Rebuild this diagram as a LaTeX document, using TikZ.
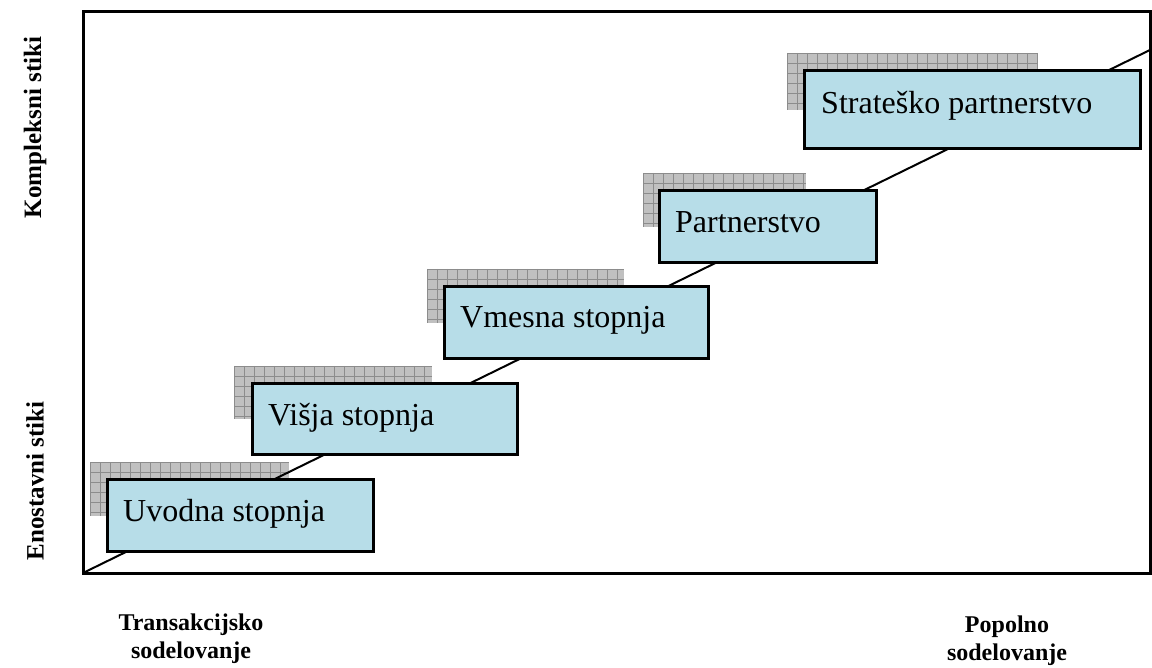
\documentclass[tikz,border=0pt]{standalone}
\usepackage{fontspec}
\setmainfont{Liberation Serif}
\definecolor{boxblue}{RGB}{183,221,232}
\definecolor{shadefill}{RGB}{192,192,192}
\definecolor{shadeline}{RGB}{140,140,140}
\tikzset{
  stagebox/.style={draw=black, line width=2.6pt, fill=boxblue, rectangle, inner sep=0pt, anchor=north west},
  stagetext/.style={anchor=base west, inner sep=0pt, font=\fontsize{32}{38}\selectfont},
  axislabel/.style={inner sep=0pt, font=\fontsize{25}{29}\selectfont\bfseries},
  bottomlabel/.style={inner sep=0pt, align=center, anchor=north, font=\fontsize{24}{28}\selectfont\bfseries},
  frameline/.style={line width=3pt},
  diagline/.style={line width=2pt},
  gridln/.style={draw=shadeline, line width=0.9pt}
}
\newcommand{\gridshade}[4]{%
  \fill[shadefill] (#1,#2) rectangle (#3,#4);
  \begin{scope}
    \clip (#1,#2) rectangle (#3,#4);
    \foreach \k in {0,...,30}{\draw[gridln] ({#1+\k*10},#2) -- ({#1+\k*10},#4);}
    \foreach \k in {0,...,7}{\draw[gridln] (#1,{#2+\k*10}) -- (#3,{#2+\k*10});}
  \end{scope}}
\begin{document}
\begin{tikzpicture}[x=1pt,y=-1pt]
\useasboundingbox (0,0) rectangle (1152,668);
\begin{scope}
\clip (0,0) rectangle (1152,668);
% frame
\draw[frameline] (83,12) rectangle (1150.5,573);
\coordinate (o) at (83,573);
\coordinate (e) at (1152,49);
% shadows
\gridshade{90}{462}{289}{516}
\gridshade{234}{366}{432}{419}
\gridshade{427}{269}{624}{323}
\gridshade{643}{173}{806}{227}
\gridshade{787}{53}{1038}{110}
% diagonal
\draw[diagline] (o) -- (e);
% boxes
\node[stagebox, minimum width=266pt, minimum height=72pt] (s1) at (106,478) {};
\node[stagetext] at ([shift={(17,43)}]s1.north west) {Uvodna stopnja};
\node[stagebox, minimum width=265pt, minimum height=71pt] (s2) at (251,382) {};
\node[stagetext] at ([shift={(17,43)}]s2.north west) {Višja stopnja};
\node[stagebox, minimum width=264pt, minimum height=72pt] (s3) at (443,285) {};
\node[stagetext] at ([shift={(17,43)}]s3.north west) {Vmesna stopnja};
\node[stagebox, minimum width=217pt, minimum height=72pt] (s4) at (658,189) {};
\node[stagetext] at ([shift={(17,44)}]s4.north west) {Partnerstvo};
\node[stagebox, minimum width=336pt, minimum height=78pt] (s5) at (803,69) {};
\node[stagetext] at ([shift={(18,45)}]s5.north west) {Strateško partnerstvo};
\end{scope}
% axis labels
\node[axislabel, rotate=90] (ky) at (35,127.5) {Kompleksni stiki};
\node[axislabel, rotate=90] (ey) at (35,481) {Enostavni stiki};
\node[bottomlabel] (tx) at (191,613.5) {Transakcijsko\\sodelovanje};
\node[bottomlabel] (px) at (1007,615.5) {Popolno\\sodelovanje};
\end{tikzpicture}
\end{document}
